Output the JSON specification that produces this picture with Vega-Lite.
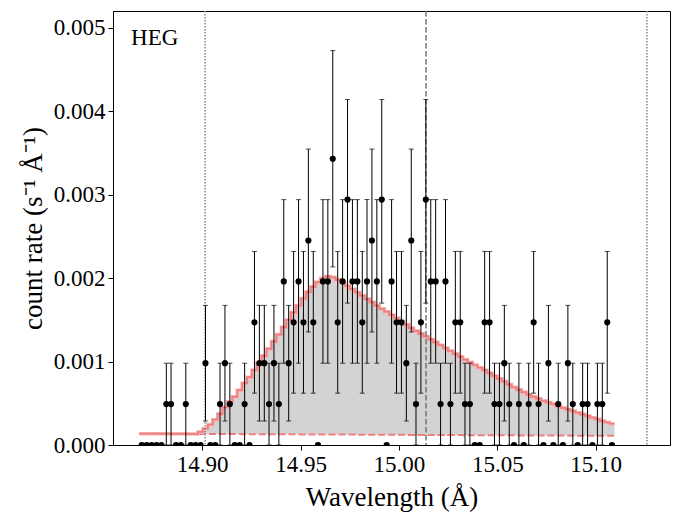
{
  "$schema": "https://vega.github.io/schema/vega-lite/v6.json",
  "width": 557,
  "height": 434,
  "autosize": {"type": "none"},
  "padding": {"left": 113, "top": 11, "right": 12, "bottom": 71},
  "background": "white",
  "datasets": {
    "heg": [
      {"x": 14.8693, "e": 14.86805, "r": 0, "m": 0.0001360, "b": 0.0001360},
      {"x": 14.8718, "e": 14.87054, "r": 0, "m": 0.0001357, "b": 0.0001357},
      {"x": 14.8743, "e": 14.87303, "r": 0, "m": 0.0001355, "b": 0.0001355},
      {"x": 14.8768, "e": 14.87552, "r": 0, "m": 0.0001352, "b": 0.0001352},
      {"x": 14.8793, "e": 14.87801, "r": 0, "m": 0.0001349, "b": 0.0001349},
      {"x": 14.8818, "e": 14.88050, "r": 0.00049, "lo": 0, "hi": 0.00098, "m": 0.0001347, "b": 0.0001347},
      {"x": 14.8842, "e": 14.88299, "r": 0.00049, "lo": 0, "hi": 0.00098, "m": 0.0001344, "b": 0.0001344},
      {"x": 14.8867, "e": 14.88548, "r": 0, "m": 0.0001341, "b": 0.0001341},
      {"x": 14.8892, "e": 14.88797, "r": 0, "m": 0.0001338, "b": 0.0001338},
      {"x": 14.8917, "e": 14.89046, "r": 0.00049, "lo": 0, "hi": 0.00098, "m": 0.0001336, "b": 0.0001336},
      {"x": 14.8942, "e": 14.89295, "r": 0, "m": 0.0001333, "b": 0.0001333},
      {"x": 14.8967, "e": 14.89544, "r": 0, "m": 0.0001330, "b": 0.0001330},
      {"x": 14.8992, "e": 14.89793, "r": 0, "m": 0.000157, "b": 0.0001328},
      {"x": 14.9017, "e": 14.90042, "r": 0.00098, "lo": 0.000287, "hi": 0.001673, "m": 0.000196, "b": 0.0001325},
      {"x": 14.9042, "e": 14.90291, "r": 0, "m": 0.000245, "b": 0.0001322},
      {"x": 14.9067, "e": 14.90540, "r": 0, "m": 0.000304, "b": 0.0001320},
      {"x": 14.9091, "e": 14.90789, "r": 0.00049, "lo": 0, "hi": 0.00098, "m": 0.000372, "b": 0.0001317},
      {"x": 14.9116, "e": 14.91038, "r": 0.00098, "lo": 0.000287, "hi": 0.001673, "m": 0.000451, "b": 0.0001314},
      {"x": 14.9141, "e": 14.91287, "r": 0.00049, "lo": 0, "hi": 0.00098, "m": 0.000519, "b": 0.0001311},
      {"x": 14.9166, "e": 14.91536, "r": 0, "m": 0.000578, "b": 0.0001309},
      {"x": 14.9191, "e": 14.91785, "r": 0, "m": 0.000657, "b": 0.0001306},
      {"x": 14.9216, "e": 14.92034, "r": 0.00049, "lo": 0, "hi": 0.00098, "m": 0.000740, "b": 0.0001303},
      {"x": 14.9241, "e": 14.92283, "r": 0, "m": 0.000813, "b": 0.0001301},
      {"x": 14.9266, "e": 14.92532, "r": 0.00147, "lo": 0.000621, "hi": 0.002319, "m": 0.000897, "b": 0.0001298},
      {"x": 14.9291, "e": 14.92781, "r": 0.00098, "lo": 0.000287, "hi": 0.001673, "m": 0.000985, "b": 0.0001295},
      {"x": 14.9316, "e": 14.93030, "r": 0.00098, "lo": 0.000287, "hi": 0.001673, "m": 0.001068, "b": 0.0001293},
      {"x": 14.9340, "e": 14.93279, "r": 0.00049, "lo": 0, "hi": 0.00098, "m": 0.001152, "b": 0.0001290},
      {"x": 14.9365, "e": 14.93528, "r": 0.00098, "lo": 0.000287, "hi": 0.001673, "m": 0.001240, "b": 0.0001287},
      {"x": 14.9390, "e": 14.93777, "r": 0.00049, "lo": 0, "hi": 0.00098, "m": 0.001323, "b": 0.0001284},
      {"x": 14.9415, "e": 14.94026, "r": 0.00196, "lo": 0.00098, "hi": 0.00294, "m": 0.001411, "b": 0.0001282},
      {"x": 14.9440, "e": 14.94275, "r": 0.00098, "lo": 0.000287, "hi": 0.001673, "m": 0.001499, "b": 0.0001279},
      {"x": 14.9465, "e": 14.94524, "r": 0.00147, "lo": 0.000621, "hi": 0.002319, "m": 0.001588, "b": 0.0001276},
      {"x": 14.9490, "e": 14.94773, "r": 0.00196, "lo": 0.00098, "hi": 0.00294, "m": 0.001671, "b": 0.0001274},
      {"x": 14.9515, "e": 14.95022, "r": 0.00147, "lo": 0.000621, "hi": 0.002319, "m": 0.001754, "b": 0.0001271},
      {"x": 14.9540, "e": 14.95271, "r": 0.00245, "lo": 0.001354, "hi": 0.003546, "m": 0.001833, "b": 0.0001268},
      {"x": 14.9565, "e": 14.95520, "r": 0.00147, "lo": 0.000621, "hi": 0.002319, "m": 0.001896, "b": 0.0001266},
      {"x": 14.9589, "e": 14.95769, "r": 0, "m": 0.001950, "b": 0.0001263},
      {"x": 14.9614, "e": 14.96018, "r": 0.00196, "lo": 0.00098, "hi": 0.00294, "m": 0.001994, "b": 0.0001260},
      {"x": 14.9639, "e": 14.96267, "r": 0.00196, "lo": 0.00098, "hi": 0.00294, "m": 0.002019, "b": 0.0001257},
      {"x": 14.9664, "e": 14.96516, "r": 0.00343, "lo": 0.002134, "hi": 0.004726, "m": 0.002009, "b": 0.0001255},
      {"x": 14.9689, "e": 14.96765, "r": 0.00147, "lo": 0.000621, "hi": 0.002319, "m": 0.001980, "b": 0.0001252},
      {"x": 14.9714, "e": 14.97014, "r": 0.00196, "lo": 0.00098, "hi": 0.00294, "m": 0.001945, "b": 0.0001249},
      {"x": 14.9739, "e": 14.97263, "r": 0.00294, "lo": 0.0017, "hi": 0.00414, "m": 0.001906, "b": 0.0001247},
      {"x": 14.9764, "e": 14.97512, "r": 0.00196, "lo": 0.00098, "hi": 0.00294, "m": 0.001867, "b": 0.0001244},
      {"x": 14.9789, "e": 14.97761, "r": 0.00196, "lo": 0.00098, "hi": 0.00294, "m": 0.001828, "b": 0.0001241},
      {"x": 14.9814, "e": 14.98010, "r": 0.00147, "lo": 0.000621, "hi": 0.002319, "m": 0.001789, "b": 0.0001239},
      {"x": 14.9838, "e": 14.98259, "r": 0.00196, "lo": 0.00098, "hi": 0.00294, "m": 0.001749, "b": 0.0001236},
      {"x": 14.9863, "e": 14.98508, "r": 0.00245, "lo": 0.001354, "hi": 0.003546, "m": 0.001710, "b": 0.0001233},
      {"x": 14.9888, "e": 14.98757, "r": 0.00196, "lo": 0.00098, "hi": 0.00294, "m": 0.001671, "b": 0.0001230},
      {"x": 14.9913, "e": 14.99006, "r": 0.00294, "lo": 0.0017, "hi": 0.00414, "m": 0.001632, "b": 0.0001228},
      {"x": 14.9938, "e": 14.99255, "r": 0, "m": 0.001597, "b": 0.0001225},
      {"x": 14.9963, "e": 14.99504, "r": 0.00196, "lo": 0.00098, "hi": 0.00294, "m": 0.001558, "b": 0.0001222},
      {"x": 14.9988, "e": 14.99753, "r": 0.00147, "lo": 0.000621, "hi": 0.002319, "m": 0.001519, "b": 0.0001220},
      {"x": 15.0013, "e": 15.00002, "r": 0.00147, "lo": 0.000621, "hi": 0.002319, "m": 0.001480, "b": 0.0001217},
      {"x": 15.0038, "e": 15.00251, "r": 0.00098, "lo": 0.000287, "hi": 0.001673, "m": 0.001441, "b": 0.0001214},
      {"x": 15.0063, "e": 15.00500, "r": 0.00245, "lo": 0.001354, "hi": 0.003546, "m": 0.001401, "b": 0.0001212},
      {"x": 15.0087, "e": 15.00749, "r": 0.00049, "lo": 0, "hi": 0.00098, "m": 0.001367, "b": 0.0001209},
      {"x": 15.0112, "e": 15.00998, "r": 0.00147, "lo": 0.000621, "hi": 0.002319, "m": 0.001333, "b": 0.0001206},
      {"x": 15.0137, "e": 15.01247, "r": 0.00294, "lo": 0.0017, "hi": 0.00414, "m": 0.001299, "b": 0.0001203},
      {"x": 15.0162, "e": 15.01496, "r": 0.00196, "lo": 0.00098, "hi": 0.00294, "m": 0.001264, "b": 0.0001201},
      {"x": 15.0187, "e": 15.01745, "r": 0.00196, "lo": 0.00098, "hi": 0.00294, "m": 0.001230, "b": 0.0001198},
      {"x": 15.0212, "e": 15.01994, "r": 0.00049, "lo": 0, "hi": 0.00098, "m": 0.001196, "b": 0.0001195},
      {"x": 15.0237, "e": 15.02243, "r": 0.00196, "lo": 0.00098, "hi": 0.00294, "m": 0.001161, "b": 0.0001193},
      {"x": 15.0262, "e": 15.02492, "r": 0.00049, "lo": 0, "hi": 0.00098, "m": 0.001127, "b": 0.0001190},
      {"x": 15.0287, "e": 15.02741, "r": 0.00147, "lo": 0.000621, "hi": 0.002319, "m": 0.001093, "b": 0.0001187},
      {"x": 15.0312, "e": 15.02990, "r": 0.00147, "lo": 0.000621, "hi": 0.002319, "m": 0.001058, "b": 0.0001185},
      {"x": 15.0336, "e": 15.03239, "r": 0.00049, "lo": 0, "hi": 0.00098, "m": 0.001024, "b": 0.0001182},
      {"x": 15.0361, "e": 15.03488, "r": 0.00049, "lo": 0, "hi": 0.00098, "m": 0.000990, "b": 0.0001179},
      {"x": 15.0386, "e": 15.03737, "r": 0, "m": 0.000960, "b": 0.0001176},
      {"x": 15.0411, "e": 15.03986, "r": 0, "m": 0.000926, "b": 0.0001174},
      {"x": 15.0436, "e": 15.04235, "r": 0.00147, "lo": 0.000621, "hi": 0.002319, "m": 0.000897, "b": 0.0001171},
      {"x": 15.0461, "e": 15.04484, "r": 0.00147, "lo": 0.000621, "hi": 0.002319, "m": 0.000862, "b": 0.0001168},
      {"x": 15.0486, "e": 15.04733, "r": 0.00049, "lo": 0, "hi": 0.00098, "m": 0.000828, "b": 0.0001166},
      {"x": 15.0511, "e": 15.04982, "r": 0.00049, "lo": 0, "hi": 0.00098, "m": 0.000794, "b": 0.0001163},
      {"x": 15.0536, "e": 15.05231, "r": 0.00098, "lo": 0.000287, "hi": 0.001673, "m": 0.000760, "b": 0.0001160},
      {"x": 15.0561, "e": 15.05480, "r": 0.00049, "lo": 0, "hi": 0.00098, "m": 0.000725, "b": 0.0001158},
      {"x": 15.0585, "e": 15.05729, "r": 0, "m": 0.000691, "b": 0.0001155},
      {"x": 15.0610, "e": 15.05978, "r": 0.00049, "lo": 0, "hi": 0.00098, "m": 0.000662, "b": 0.0001152},
      {"x": 15.0635, "e": 15.06227, "r": 0, "m": 0.000632, "b": 0.0001149},
      {"x": 15.0660, "e": 15.06476, "r": 0.00049, "lo": 0, "hi": 0.00098, "m": 0.000603, "b": 0.0001147},
      {"x": 15.0685, "e": 15.06725, "r": 0.00147, "lo": 0.000621, "hi": 0.002319, "m": 0.000578, "b": 0.0001144},
      {"x": 15.0710, "e": 15.06974, "r": 0.00049, "lo": 0, "hi": 0.00098, "m": 0.000554, "b": 0.0001141},
      {"x": 15.0735, "e": 15.07223, "r": 0, "m": 0.000529, "b": 0.0001139},
      {"x": 15.0760, "e": 15.07472, "r": 0.00098, "lo": 0.000287, "hi": 0.001673, "m": 0.000510, "b": 0.0001136},
      {"x": 15.0785, "e": 15.07721, "r": 0, "m": 0.000490, "b": 0.0001133},
      {"x": 15.0810, "e": 15.07970, "r": 0.00049, "lo": 0, "hi": 0.00098, "m": 0.000466, "b": 0.0001131},
      {"x": 15.0834, "e": 15.08219, "r": 0, "m": 0.000446, "b": 0.0001128},
      {"x": 15.0859, "e": 15.08468, "r": 0.00098, "lo": 0.000287, "hi": 0.001673, "m": 0.000426, "b": 0.0001125},
      {"x": 15.0884, "e": 15.08717, "r": 0.00049, "lo": 0, "hi": 0.00098, "m": 0.000407, "b": 0.0001122},
      {"x": 15.0909, "e": 15.08966, "r": 0, "m": 0.000387, "b": 0.0001120},
      {"x": 15.0934, "e": 15.09215, "r": 0.00049, "lo": 0, "hi": 0.00098, "m": 0.000368, "b": 0.0001117},
      {"x": 15.0959, "e": 15.09464, "r": 0.00049, "lo": 0, "hi": 0.00098, "m": 0.000348, "b": 0.0001114},
      {"x": 15.0984, "e": 15.09713, "r": 0, "m": 0.000328, "b": 0.0001112},
      {"x": 15.1009, "e": 15.09962, "r": 0.00049, "lo": 0, "hi": 0.00098, "m": 0.000309, "b": 0.0001109},
      {"x": 15.1034, "e": 15.10211, "r": 0.00049, "lo": 0, "hi": 0.00098, "m": 0.000289, "b": 0.0001106},
      {"x": 15.1059, "e": 15.10460, "r": 0.00147, "lo": 0.000621, "hi": 0.002319, "m": 0.000270, "b": 0.0001104},
      {"x": 15.1083, "e": 15.10709, "r": 0, "m": 0.000255, "b": 0.0001101},
      {"e": 15.10958, "m": 0.000255, "b": 0.0001101}
    ]
  },
  "data": {"name": "heg"},
  "layer": [
    {
      "mark": {"type": "area", "interpolate": "step-after", "color": "#d3d3d3", "opacity": 1},
      "encoding": {
        "x": {"field": "e", "type": "quantitative", "title": "Wavelength (Å)",
          "scale": {"domain": [14.8547, 15.1378], "nice": false, "zero": false},
          "axis": {"values": [14.9, 14.95, 15.0, 15.05, 15.1], "format": ".2f"}},
        "y": {"field": "m", "type": "quantitative", "title": "count rate (s⁻¹ Å⁻¹)",
          "scale": {"domain": [0, 0.0052], "nice": false},
          "axis": {"values": [0, 0.001, 0.002, 0.003, 0.004, 0.005], "format": ".3f"}},
        "y2": {"field": "b"}
      }
    },
    {
      "mark": {"type": "line", "interpolate": "step-after", "color": "#f08080", "strokeWidth": 2, "strokeDash": [7, 3]},
      "encoding": {
        "x": {"field": "e", "type": "quantitative", "title": "Wavelength (Å)"},
        "y": {"field": "b", "type": "quantitative", "title": "count rate (s⁻¹ Å⁻¹)"}
      }
    },
    {
      "mark": {"type": "line", "interpolate": "step-after", "color": "#f8b4b4", "strokeWidth": 3.5},
      "encoding": {
        "x": {"field": "e", "type": "quantitative", "title": "Wavelength (Å)"},
        "y": {"field": "m", "type": "quantitative", "title": "count rate (s⁻¹ Å⁻¹)"}
      }
    },
    {
      "mark": {"type": "line", "interpolate": "step-after", "color": "#f07f7f", "strokeWidth": 1.8},
      "encoding": {
        "x": {"field": "e", "type": "quantitative", "title": "Wavelength (Å)"},
        "y": {"field": "m", "type": "quantitative", "title": "count rate (s⁻¹ Å⁻¹)"}
      }
    },
    {
      "data": {"values": [{"w": 14.9015}, {"w": 15.1261}]},
      "mark": {"type": "rule", "color": "#888888", "strokeWidth": 1.5, "strokeDash": [1.5, 1.5]},
      "encoding": {"x": {"field": "w", "type": "quantitative", "title": "Wavelength (Å)"}}
    },
    {
      "data": {"values": [{"w": 15.0138}]},
      "mark": {"type": "rule", "color": "#777777", "strokeWidth": 1.5, "strokeDash": [5.5, 2.5]},
      "encoding": {"x": {"field": "w", "type": "quantitative", "title": "Wavelength (Å)"}}
    },
    {
      "transform": [{"filter": "isValid(datum.hi)"}],
      "mark": {"type": "errorbar", "ticks": true, "size": 5, "thickness": 1, "color": "black"},
      "encoding": {
        "x": {"field": "x", "type": "quantitative", "title": "Wavelength (Å)"},
        "y": {"field": "lo", "type": "quantitative", "title": "count rate (s⁻¹ Å⁻¹)"},
        "y2": {"field": "hi"}
      }
    },
    {
      "transform": [{"filter": "isValid(datum.r)"}],
      "mark": {"type": "circle", "size": 38, "color": "black", "opacity": 1, "clip": true},
      "encoding": {
        "x": {"field": "x", "type": "quantitative", "title": "Wavelength (Å)"},
        "y": {"field": "r", "type": "quantitative", "title": "count rate (s⁻¹ Å⁻¹)"}
      }
    },
    {
      "data": {"values": [{"t": "HEG", "tx": 14.8639, "ty": 0.00479}]},
      "mark": {"type": "text", "align": "left", "baseline": "alphabetic", "fontSize": 23, "font": "Liberation Serif", "color": "black"},
      "encoding": {
        "x": {"field": "tx", "type": "quantitative", "title": "Wavelength (Å)"},
        "y": {"field": "ty", "type": "quantitative", "title": "count rate (s⁻¹ Å⁻¹)"},
        "text": {"field": "t"}
      }
    }
  ],
  "config": {
    "font": "Liberation Serif",
    "view": {"stroke": "black", "strokeWidth": 1},
    "axis": {
      "grid": false,
      "labelFont": "Liberation Serif",
      "titleFont": "Liberation Serif",
      "labelFontSize": 23,
      "titleFontSize": 27,
      "titleFontWeight": "normal",
      "labelColor": "black",
      "titleColor": "black",
      "domainColor": "black",
      "tickColor": "black",
      "tickSize": 5,
      "labelPadding": 3,
      "labelFlush": false,
      "labelOverlap": false
    },
    "axisX": {"titlePadding": 8},
    "axisY": {"titlePadding": 6}
  }
}
